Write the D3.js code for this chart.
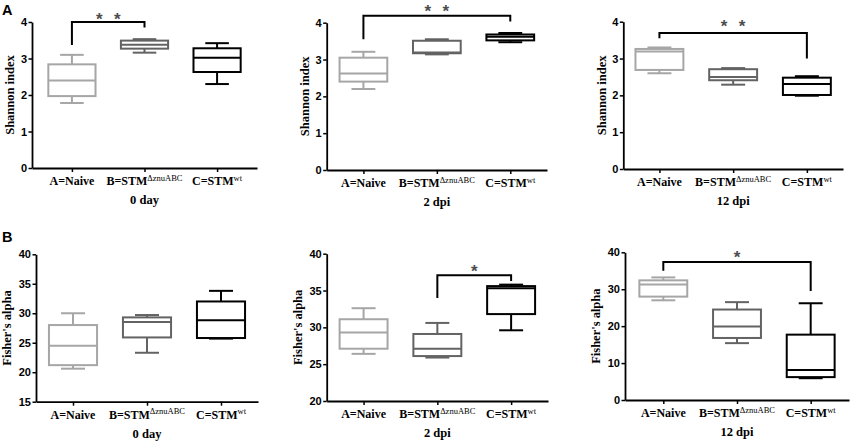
<!DOCTYPE html>
<html>
<head>
<meta charset="utf-8">
<script src="https://cdn.jsdelivr.net/npm/d3@7"></script>
<style>
  html, body { margin: 0; padding: 0; background: #fff; }
  svg { display: block; }
</style>
</head>
<body>
<svg id="chart" width="851" height="443"></svg>
<script>
// ---------------- DATA ----------------
const categories = ["A=Naive", "B=STM", "C=STM"];
const categorySup = ["", "\u0394znuABC", "wt"];
const timeLabels = ["0 day", "2 dpi", "12 dpi"];
const rowTitles = ["Shannon index", "Fisher's alpha"];
const rowLetters = ["A", "B"];

// box stats per group: [min, q1, median, q3, max]
const shannon0day  = [[1.78, 1.97, 2.40, 2.84, 3.10], [3.16, 3.27, 3.38, 3.49, 3.53], [2.30, 2.63, 3.02, 3.28, 3.42]];
const shannon2dpi  = [[2.20, 2.40, 2.62, 3.05, 3.21], [3.14, 3.17, 3.19, 3.51, 3.55], [3.47, 3.52, 3.62, 3.68, 3.72]];
const shannon12dpi = [[2.60, 2.69, 3.19, 3.26, 3.30], [2.29, 2.41, 2.50, 2.71, 2.74], [1.99, 2.01, 2.31, 2.48, 2.52]];
const fisher0day   = [[20.6, 21.2, 24.5, 28.0, 30.0], [23.3, 25.9, 28.5, 29.3, 29.7], [25.7, 25.8, 28.8, 32.0, 33.8]];
const fisher2dpi   = [[26.4, 27.1, 29.3, 31.1, 32.6], [25.9, 26.1, 27.1, 29.1, 30.6], [29.6, 31.8, 35.3, 35.6, 35.8]];
const fisher12dpi  = [[27.0, 28.0, 31.3, 32.4, 33.2], [15.4, 16.8, 19.9, 24.5, 26.5], [5.9, 6.2, 8.1, 17.7, 26.2]];

// y tick values
const shannonTicks = [0, 1, 2, 3, 4];
const fisherTicks0 = [15, 20, 25, 30, 35, 40];
const fisherTicks2 = [20, 25, 30, 35, 40];
const fisherTicks12 = [0, 10, 20, 30, 40];

// significance brackets: [fromGroup, toGroup, leftEnd, top, rightEnd, stars, starLevel]
const sig0day_A  = [0, 1, 3.37, 4.00, 3.85, 2, 4.20];
const sig2dpi_A  = [0, 2, 3.55, 4.19, 4.03, 2, 4.44];
const sig12dpi_A = [0, 2, 3.55, 3.69, 3.00, 2, 4.00];
const sig2dpi_B  = [1, 2, 33.98, 37.06, 36.3, 1, 38.2];
const sig12dpi_B = [0, 2, 35.0, 37.4, 29.5, 1, 40.0];

// ---------------- LAYOUT ----------------
const colors = ["#a6a6a6", "#636363", "#000000"];
const panels = [
  { row: 0, t: 0, data: shannon0day,  ticks: shannonTicks,  domain: [0, 4],   sig: sig0day_A,  x0: 32,    x1: 257, yb: 168,   yt: 22,    pad: 0.55 },
  { row: 0, t: 1, data: shannon2dpi,  ticks: shannonTicks,  domain: [0, 4],   sig: sig2dpi_A,  x0: 326.7, x1: 547, yb: 170,   yt: 22.7,  pad: 0.5 },
  { row: 0, t: 2, data: shannon12dpi, ticks: shannonTicks,  domain: [0, 4],   sig: sig12dpi_A, x0: 623.3, x1: 843, yb: 169,   yt: 21.7,  pad: 0.49 },
  { row: 1, t: 0, data: fisher0day,   ticks: fisherTicks0,  domain: [15, 40], sig: null,       x0: 36,    x1: 258, yb: 401.7, yt: 254.3, pad: 0.5 },
  { row: 1, t: 1, data: fisher2dpi,   ticks: fisherTicks2,  domain: [20, 40], sig: sig2dpi_B,  x0: 326.7, x1: 548, yb: 401,   yt: 253.7, pad: 0.5 },
  { row: 1, t: 2, data: fisher12dpi,  ticks: fisherTicks12, domain: [0, 40],  sig: sig12dpi_B, x0: 625,   x1: 849, yb: 400,   yt: 252.3, pad: 0.52 }
];

const svg = d3.select("#chart");
const sansBold = "'Liberation Sans', Arial, sans-serif";
const serif = "'Liberation Serif', 'Times New Roman', serif";

// Row letters
svg.selectAll("text.rowLetter").data(rowLetters).join("text")
  .attr("class", "rowLetter")
  .attr("x", 2)
  .attr("y", (d, i) => i === 0 ? 14.5 : 242)
  .attr("font-family", sansBold).attr("font-weight", "bold").attr("font-size", 14.5)
  .attr("fill", "#000")
  .text(d => d);

panels.forEach(p => {
  const g = svg.append("g");
  const x = d3.scalePoint().domain(d3.range(categories.length)).range([p.x0, p.x1]).padding(p.pad);
  const y = d3.scaleLinear().domain(p.domain).range([p.yb, p.yt]);
  const step = x.step();
  const bw = step * 0.65;
  const cap = bw * 0.5;

  // Y axis
  const ya = g.append("g").attr("transform", `translate(${p.x0},0)`)
    .call(d3.axisLeft(y).tickValues(p.ticks).tickSize(3.5).tickSizeOuter(0).tickPadding(1.5).tickFormat(d3.format("d")));
  ya.select(".domain").attr("stroke", "#000").attr("stroke-width", 1.8);
  ya.selectAll(".tick line").attr("stroke", "#000").attr("stroke-width", 1.5);
  ya.selectAll(".tick text").attr("font-family", sansBold).attr("font-weight", "bold")
    .attr("font-size", 11).attr("fill", "#000");

  // X axis
  const xa = g.append("g").attr("transform", `translate(0,${p.yb})`)
    .call(d3.axisBottom(x).tickSize(4).tickSizeOuter(0).tickFormat(""));
  xa.select(".domain").attr("stroke", "#000").attr("stroke-width", 1.8);
  xa.selectAll(".tick line").attr("stroke", "#000").attr("stroke-width", 1.5);

  // Category labels with superscripts
  const lab = g.selectAll("text.cat").data(categories).join("text")
    .attr("class", "cat")
    .attr("x", (d, i) => x(i))
    .attr("y", p.yb + 17)
    .attr("text-anchor", "middle")
    .attr("font-family", serif).attr("fill", "#000");
  lab.append("tspan").attr("font-weight", "bold").attr("font-size", 12).text(d => d);
  lab.append("tspan").attr("font-weight", "normal").attr("font-size", 8.5).attr("dy", -4.5)
    .text((d, i) => categorySup[i]);

  // Time label
  g.append("text")
    .attr("x", x(1)).attr("y", p.yb + 36)
    .attr("text-anchor", "middle")
    .attr("font-family", serif).attr("font-weight", "bold").attr("font-size", 12.5)
    .attr("fill", "#000")
    .text(timeLabels[p.t]);

  // Y title
  const tx = p.x0 - (p.row === 0 ? 22 : 29);
  const ty = (p.yb + p.yt) / 2;
  g.append("text")
    .attr("transform", `translate(${tx},${ty}) rotate(-90)`)
    .attr("text-anchor", "middle").attr("dy", "0.35em")
    .attr("font-family", serif).attr("font-weight", "bold").attr("font-size", 12.5)
    .attr("fill", "#000")
    .text(rowTitles[p.row]);

  // Boxes
  const bx = g.selectAll("g.box").data(p.data).join("g").attr("class", "box")
    .attr("stroke", (d, i) => colors[i]).attr("stroke-width", 2).attr("fill", "none");
  bx.append("line") // upper whisker
    .attr("x1", (d, i) => x(i)).attr("x2", (d, i) => x(i))
    .attr("y1", d => y(d[3])).attr("y2", d => y(d[4]));
  bx.append("line") // lower whisker
    .attr("x1", (d, i) => x(i)).attr("x2", (d, i) => x(i))
    .attr("y1", d => y(d[1])).attr("y2", d => y(d[0]));
  bx.append("line") // top cap
    .attr("x1", (d, i) => x(i) - cap / 2).attr("x2", (d, i) => x(i) + cap / 2)
    .attr("y1", d => y(d[4])).attr("y2", d => y(d[4]));
  bx.append("line") // bottom cap
    .attr("x1", (d, i) => x(i) - cap / 2).attr("x2", (d, i) => x(i) + cap / 2)
    .attr("y1", d => y(d[0])).attr("y2", d => y(d[0]));
  bx.append("rect")
    .attr("x", (d, i) => x(i) - bw / 2).attr("width", bw)
    .attr("y", d => y(d[3])).attr("height", d => y(d[1]) - y(d[3]))
    .attr("fill", "#fff");
  bx.append("line") // median
    .attr("x1", (d, i) => x(i) - bw / 2).attr("x2", (d, i) => x(i) + bw / 2)
    .attr("y1", d => y(d[2])).attr("y2", d => y(d[2]));

  // Significance bracket
  if (p.sig) {
    const [a, b, lv, tv, rv, n, sv] = p.sig;
    const path = d3.path();
    path.moveTo(x(a), y(lv));
    path.lineTo(x(a), y(tv));
    path.lineTo(x(b), y(tv));
    path.lineTo(x(b), y(rv));
    g.append("path").attr("d", path.toString())
      .attr("fill", "none").attr("stroke", "#000").attr("stroke-width", 2);
    const cx = (x(a) + x(b)) / 2;
    const sp = 18;
    d3.range(n).forEach(k => {
      g.append("text")
        .attr("x", cx + (k - (n - 1) / 2) * sp)
        .attr("y", y(sv))
        .attr("dy", "0.6em")
        .attr("text-anchor", "middle")
        .attr("font-family", sansBold).attr("font-weight", "bold").attr("font-size", 17)
        .attr("fill", "#4d4d4d")
        .text("*");
    });
  }
});
</script>
</body>
</html>
